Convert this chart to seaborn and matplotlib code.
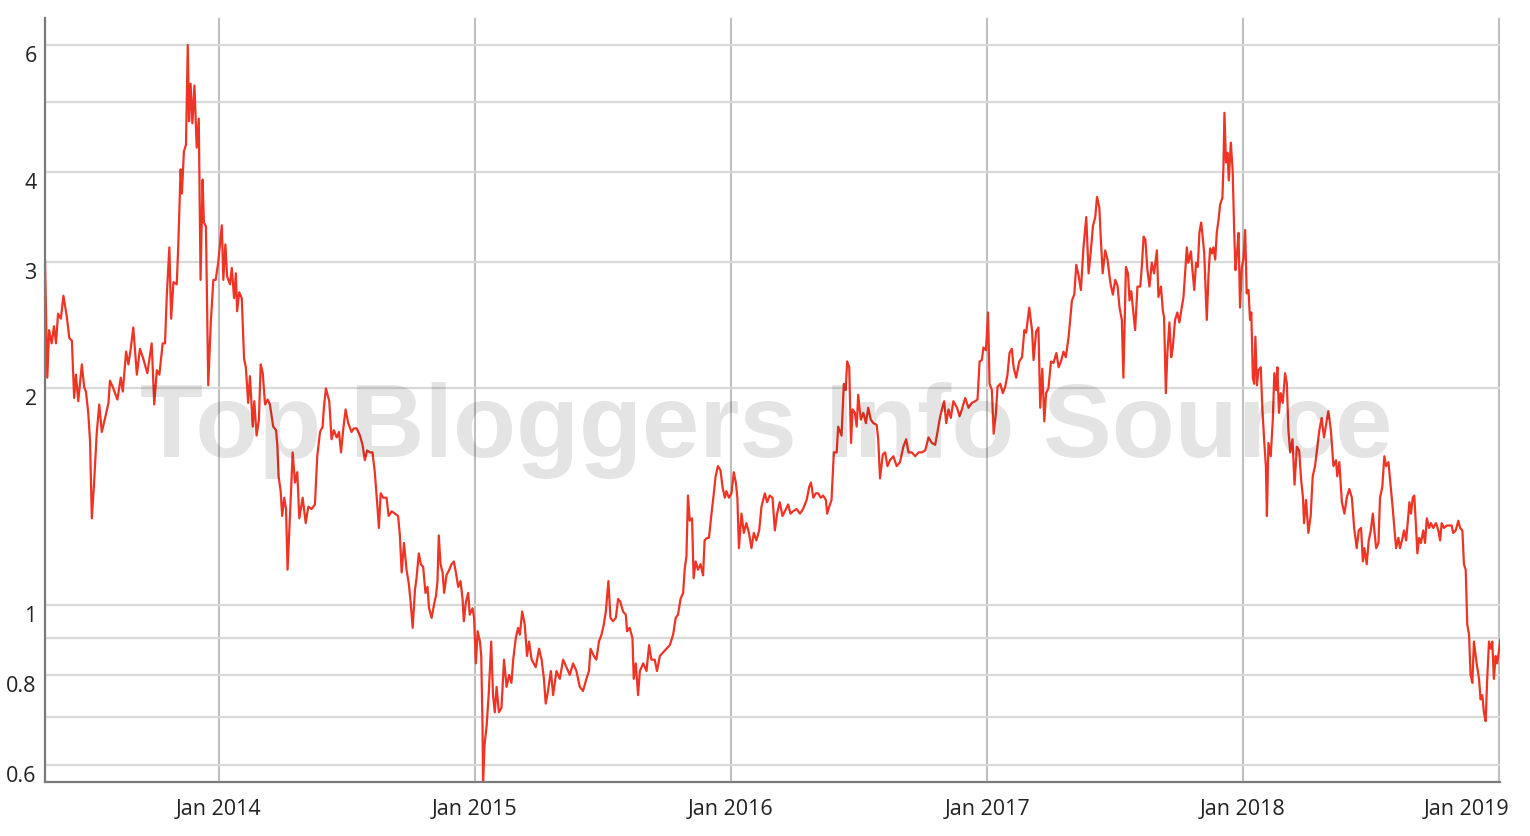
import numpy as np
import pandas as pd
import matplotlib
matplotlib.use("Agg")
import matplotlib.pyplot as plt
import matplotlib.dates as mdates
from matplotlib.ticker import FixedLocator, NullLocator, FixedFormatter
from matplotlib.transforms import ScaledTranslation
import seaborn as sns

# ---------------- data (decimal year, value) ----------------
year_frac = [
    2013.320, 2013.329, 2013.336, 2013.346, 2013.355, 2013.363, 2013.371, 2013.382, 2013.392, 2013.405,
    2013.415, 2013.425, 2013.434, 2013.441, 2013.450, 2013.464, 2013.473, 2013.480, 2013.489, 2013.496,
    2013.503, 2013.512, 2013.522, 2013.532, 2013.542, 2013.555, 2013.568, 2013.574, 2013.587, 2013.603,
    2013.616, 2013.624, 2013.637, 2013.646, 2013.655, 2013.665, 2013.679, 2013.691, 2013.704, 2013.720,
    2013.737, 2013.747, 2013.757, 2013.767, 2013.780, 2013.789, 2013.796, 2013.806, 2013.813, 2013.822,
    2013.835, 2013.841, 2013.850, 2013.855, 2013.863, 2013.871, 2013.878, 2013.883, 2013.889, 2013.896,
    2013.904, 2013.913, 2013.921, 2013.928, 2013.936, 2013.941, 2013.949, 2013.958, 2013.968, 2013.978,
    2013.987, 2013.997, 2014.011, 2014.017, 2014.025, 2014.032, 2014.043, 2014.050, 2014.059, 2014.066,
    2014.071, 2014.079, 2014.089, 2014.098, 2014.105, 2014.114, 2014.121, 2014.132, 2014.138, 2014.147,
    2014.156, 2014.163, 2014.171, 2014.180, 2014.190, 2014.199, 2014.212, 2014.223, 2014.228, 2014.233,
    2014.241, 2014.247, 2014.255, 2014.262, 2014.268, 2014.275, 2014.288, 2014.297, 2014.306, 2014.314,
    2014.327, 2014.339, 2014.349, 2014.362, 2014.375, 2014.384, 2014.395, 2014.405, 2014.410, 2014.418,
    2014.431, 2014.440, 2014.449, 2014.460, 2014.469, 2014.477, 2014.486, 2014.495, 2014.505, 2014.518,
    2014.527, 2014.538, 2014.551, 2014.561, 2014.570, 2014.579, 2014.590, 2014.600, 2014.609, 2014.618,
    2014.625, 2014.632, 2014.642, 2014.655, 2014.663, 2014.675, 2014.688, 2014.700, 2014.707, 2014.714,
    2014.723, 2014.733, 2014.742, 2014.749, 2014.757, 2014.766, 2014.772, 2014.781, 2014.789, 2014.798,
    2014.807, 2014.815, 2014.821, 2014.831, 2014.840, 2014.848, 2014.854, 2014.859, 2014.866, 2014.874,
    2014.880, 2014.889, 2014.900, 2014.909, 2014.918, 2014.926, 2014.935, 2014.944, 2014.952, 2014.957,
    2014.965, 2014.974, 2014.980, 2014.991, 2014.997, 2015.004, 2015.011, 2015.020, 2015.025, 2015.030,
    2015.032, 2015.038, 2015.046, 2015.054, 2015.064, 2015.071, 2015.078, 2015.085, 2015.094, 2015.104,
    2015.114, 2015.124, 2015.134, 2015.143, 2015.150, 2015.160, 2015.169, 2015.176, 2015.185, 2015.195,
    2015.204, 2015.212, 2015.222, 2015.230, 2015.238, 2015.251, 2015.261, 2015.270, 2015.277, 2015.286,
    2015.297, 2015.306, 2015.319, 2015.332, 2015.345, 2015.358, 2015.371, 2015.384, 2015.397, 2015.410,
    2015.423, 2015.436, 2015.446, 2015.452, 2015.465, 2015.475, 2015.485, 2015.495, 2015.504, 2015.512,
    2015.522, 2015.530, 2015.540, 2015.551, 2015.560, 2015.569, 2015.579, 2015.590, 2015.595, 2015.605,
    2015.616, 2015.621, 2015.629, 2015.638, 2015.645, 2015.658, 2015.671, 2015.681, 2015.690, 2015.703,
    2015.712, 2015.723, 2015.736, 2015.749, 2015.762, 2015.775, 2015.785, 2015.794, 2015.804, 2015.814,
    2015.820, 2015.827, 2015.833, 2015.840, 2015.849, 2015.855, 2015.863, 2015.872, 2015.882, 2015.892,
    2015.898, 2015.907, 2015.915, 2015.925, 2015.934, 2015.941, 2015.950, 2015.960, 2015.968, 2015.977,
    2015.983, 2015.993, 2016.003, 2016.012, 2016.020, 2016.026, 2016.032, 2016.042, 2016.051, 2016.061,
    2016.071, 2016.081, 2016.090, 2016.100, 2016.111, 2016.120, 2016.133, 2016.142, 2016.152, 2016.163,
    2016.172, 2016.181, 2016.191, 2016.202, 2016.211, 2016.224, 2016.233, 2016.243, 2016.257, 2016.270,
    2016.282, 2016.296, 2016.306, 2016.313, 2016.322, 2016.332, 2016.341, 2016.351, 2016.360, 2016.371,
    2016.376, 2016.384, 2016.393, 2016.402, 2016.413, 2016.419, 2016.432, 2016.441, 2016.448, 2016.454,
    2016.462, 2016.469, 2016.475, 2016.484, 2016.491, 2016.497, 2016.507, 2016.517, 2016.527, 2016.536,
    2016.546, 2016.556, 2016.569, 2016.575, 2016.582, 2016.593, 2016.602, 2016.611, 2016.621, 2016.634,
    2016.647, 2016.660, 2016.673, 2016.684, 2016.693, 2016.706, 2016.719, 2016.732, 2016.745, 2016.758,
    2016.771, 2016.784, 2016.797, 2016.806, 2016.814, 2016.823, 2016.832, 2016.840, 2016.849, 2016.858,
    2016.868, 2016.882, 2016.892, 2016.901, 2016.914, 2016.927, 2016.940, 2016.953, 2016.962, 2016.970,
    2016.979, 2016.985, 2016.995, 2017.003, 2017.009, 2017.018, 2017.025, 2017.034, 2017.040, 2017.051,
    2017.061, 2017.070, 2017.079, 2017.087, 2017.096, 2017.103, 2017.113, 2017.125, 2017.136, 2017.145,
    2017.152, 2017.164, 2017.175, 2017.181, 2017.191, 2017.200, 2017.207, 2017.215, 2017.223, 2017.230,
    2017.239, 2017.249, 2017.259, 2017.270, 2017.279, 2017.288, 2017.298, 2017.307, 2017.318, 2017.331,
    2017.340, 2017.348, 2017.357, 2017.366, 2017.376, 2017.387, 2017.392, 2017.396, 2017.405, 2017.413,
    2017.422, 2017.429, 2017.438, 2017.444, 2017.451, 2017.461, 2017.470, 2017.478, 2017.483, 2017.491,
    2017.500, 2017.509, 2017.517, 2017.526, 2017.532, 2017.542, 2017.550, 2017.556, 2017.563, 2017.569,
    2017.578, 2017.587, 2017.598, 2017.604, 2017.611, 2017.618, 2017.626, 2017.634, 2017.643, 2017.652,
    2017.663, 2017.669, 2017.679, 2017.686, 2017.691, 2017.698, 2017.704, 2017.712, 2017.719, 2017.725,
    2017.734, 2017.743, 2017.751, 2017.760, 2017.767, 2017.773, 2017.780, 2017.786, 2017.796, 2017.802,
    2017.809, 2017.816, 2017.823, 2017.829, 2017.836, 2017.843, 2017.848, 2017.853, 2017.858, 2017.865,
    2017.871, 2017.878, 2017.884, 2017.891, 2017.897, 2017.904, 2017.910, 2017.919, 2017.923, 2017.927,
    2017.933, 2017.939, 2017.944, 2017.952, 2017.959, 2017.965, 2017.970, 2017.976, 2017.982, 2017.988,
    2017.995, 2018.001, 2018.008, 2018.014, 2018.021, 2018.027, 2018.032, 2018.038, 2018.043, 2018.048,
    2018.054, 2018.060, 2018.069, 2018.075, 2018.082, 2018.089, 2018.093, 2018.099, 2018.108, 2018.116,
    2018.122, 2018.129, 2018.134, 2018.140, 2018.147, 2018.155, 2018.164, 2018.171, 2018.177, 2018.184,
    2018.193, 2018.201, 2018.210, 2018.219, 2018.227, 2018.234, 2018.238, 2018.246, 2018.255, 2018.264,
    2018.272, 2018.281, 2018.290, 2018.298, 2018.307, 2018.316, 2018.324, 2018.333, 2018.343, 2018.353,
    2018.363, 2018.368, 2018.376, 2018.386, 2018.396, 2018.405, 2018.415, 2018.425, 2018.434, 2018.444,
    2018.452, 2018.461, 2018.468, 2018.474, 2018.483, 2018.491, 2018.499, 2018.507, 2018.512, 2018.520,
    2018.529, 2018.535, 2018.544, 2018.552, 2018.559, 2018.568, 2018.577, 2018.585, 2018.591, 2018.598,
    2018.607, 2018.613, 2018.621, 2018.629, 2018.637, 2018.644, 2018.650, 2018.656, 2018.663, 2018.669,
    2018.676, 2018.681, 2018.688, 2018.695, 2018.704, 2018.711, 2018.718, 2018.727, 2018.734, 2018.743,
    2018.754, 2018.763, 2018.770, 2018.776, 2018.785, 2018.796, 2018.806, 2018.815, 2018.821, 2018.831,
    2018.841, 2018.848, 2018.857, 2018.863, 2018.870, 2018.876, 2018.883, 2018.889, 2018.896, 2018.902,
    2018.909, 2018.915, 2018.922, 2018.928, 2018.935, 2018.941, 2018.948, 2018.954, 2018.961, 2018.968,
    2018.974, 2018.980, 2018.987, 2018.993, 2018.999, 2019.006,
]

ratio = [
    3.01, 2.07, 2.41, 2.31, 2.44, 2.31, 2.54, 2.50, 2.69, 2.52,
    2.35, 2.33, 1.94, 2.09, 1.92, 2.16, 2.01, 1.98, 1.85, 1.69,
    1.32, 1.48, 1.73, 1.90, 1.74, 1.82, 1.91, 2.05, 2.00, 1.93,
    2.07, 1.98, 2.25, 2.16, 2.27, 2.43, 2.09, 2.27, 2.20, 2.10,
    2.31, 1.90, 2.12, 2.09, 2.31, 2.31, 2.69, 3.14, 2.50, 2.81,
    2.79, 3.17, 4.03, 3.73, 4.27, 4.36, 6.00, 4.70, 5.30, 4.67,
    5.27, 4.32, 4.74, 2.83, 3.90, 3.40, 3.36, 2.02, 2.47, 2.83,
    2.83, 2.99, 3.37, 2.83, 3.17, 2.86, 2.79, 2.94, 2.67, 2.89,
    2.56, 2.72, 2.67, 2.20, 2.14, 1.91, 2.08, 1.77, 1.92, 1.72,
    1.81, 2.16, 2.10, 1.90, 1.93, 1.90, 1.77, 1.75, 1.67, 1.51,
    1.44, 1.33, 1.41, 1.36, 1.12, 1.27, 1.63, 1.48, 1.53, 1.32,
    1.41, 1.30, 1.37, 1.36, 1.38, 1.61, 1.74, 1.77, 1.88, 2.00,
    1.92, 1.70, 1.75, 1.71, 1.74, 1.63, 1.76, 1.87, 1.79, 1.74,
    1.76, 1.76, 1.72, 1.67, 1.59, 1.64, 1.63, 1.63, 1.53, 1.39,
    1.28, 1.43, 1.41, 1.41, 1.33, 1.35, 1.34, 1.33, 1.25, 1.11,
    1.22, 1.12, 1.07, 1.01, 0.93, 1.05, 1.09, 1.18, 1.14, 1.13,
    1.04, 1.06, 0.99, 0.96, 1.00, 1.03, 1.08, 1.25, 1.14, 1.11,
    1.04, 1.10, 1.12, 1.14, 1.15, 1.11, 1.06, 1.08, 1.02, 0.95,
    1.01, 1.04, 0.97, 0.99, 0.96, 0.83, 0.92, 0.89, 0.85, 0.68,
    0.565, 0.64, 0.68, 0.75, 0.89, 0.75, 0.71, 0.77, 0.71, 0.72,
    0.84, 0.77, 0.80, 0.78, 0.84, 0.90, 0.93, 0.91, 0.98, 0.94,
    0.85, 0.89, 0.84, 0.83, 0.82, 0.87, 0.84, 0.79, 0.73, 0.76,
    0.81, 0.75, 0.81, 0.79, 0.84, 0.82, 0.80, 0.83, 0.81, 0.77,
    0.76, 0.79, 0.81, 0.87, 0.85, 0.84, 0.89, 0.91, 0.94, 0.98,
    1.08, 0.96, 0.95, 0.96, 1.02, 1.01, 0.98, 0.97, 0.92, 0.93,
    0.90, 0.79, 0.83, 0.75, 0.81, 0.83, 0.81, 0.88, 0.84, 0.84,
    0.81, 0.85, 0.86, 0.87, 0.88, 0.91, 0.96, 0.97, 1.02, 1.04,
    1.12, 1.17, 1.42, 1.31, 1.32, 1.09, 1.15, 1.12, 1.14, 1.10,
    1.23, 1.24, 1.24, 1.34, 1.43, 1.51, 1.56, 1.54, 1.46, 1.41,
    1.44, 1.41, 1.43, 1.53, 1.48, 1.41, 1.20, 1.34, 1.26, 1.30,
    1.26, 1.20, 1.26, 1.23, 1.27, 1.37, 1.43, 1.39, 1.42, 1.41,
    1.27, 1.34, 1.39, 1.33, 1.35, 1.38, 1.34, 1.35, 1.36, 1.34,
    1.36, 1.40, 1.46, 1.48, 1.41, 1.43, 1.43, 1.41, 1.42, 1.40,
    1.34, 1.37, 1.40, 1.63, 1.63, 1.77, 1.72, 2.03, 1.99, 2.18,
    2.14, 1.68, 1.87, 1.85, 1.77, 1.96, 1.81, 1.85, 1.79, 1.88,
    1.81, 1.79, 1.78, 1.70, 1.50, 1.62, 1.63, 1.56, 1.59, 1.61,
    1.56, 1.58, 1.66, 1.70, 1.63, 1.63, 1.61, 1.63, 1.63, 1.64,
    1.71, 1.68, 1.67, 1.74, 1.81, 1.87, 1.92, 1.79, 1.87, 1.82,
    1.92, 1.88, 1.83, 1.87, 1.94, 1.88, 1.91, 1.92, 1.93, 2.18,
    2.19, 2.28, 2.26, 2.55, 2.03, 1.99, 1.73, 1.85, 2.01, 2.03,
    1.97, 2.01, 2.09, 2.24, 2.27, 2.14, 2.07, 2.18, 2.21, 2.41,
    2.39, 2.59, 2.41, 2.19, 2.40, 2.43, 1.88, 2.13, 1.80, 1.97,
    2.00, 2.18, 2.17, 2.24, 2.14, 2.18, 2.25, 2.21, 2.36, 2.65,
    2.70, 2.97, 2.87, 2.74, 3.14, 3.46, 3.14, 2.89, 3.11, 3.36,
    3.46, 3.69, 3.57, 3.22, 2.89, 3.11, 3.02, 2.86, 2.78, 2.70,
    2.83, 2.78, 2.59, 2.49, 2.07, 2.95, 2.89, 2.65, 2.73, 2.59,
    2.41, 2.77, 2.77, 2.95, 3.25, 3.22, 2.92, 2.77, 2.99, 2.89,
    3.11, 2.68, 2.77, 2.57, 2.51, 1.97, 2.24, 2.47, 2.21, 2.28,
    2.49, 2.55, 2.47, 2.59, 2.68, 2.89, 3.14, 2.99, 3.10, 2.92,
    2.74, 2.99, 2.95, 3.29, 3.40, 3.22, 3.08, 2.77, 2.49, 2.89,
    3.13, 3.08, 3.14, 3.02, 3.29, 3.43, 3.60, 3.68, 4.06, 4.83,
    4.12, 4.25, 3.89, 4.39, 4.02, 3.32, 2.92, 3.08, 3.29, 2.59,
    2.95, 3.02, 3.32, 2.71, 2.74, 2.49, 2.55, 2.07, 2.03, 2.36,
    2.02, 2.12, 2.14, 1.88, 1.70, 1.56, 1.33, 1.68, 1.61, 1.81,
    2.10, 1.99, 2.14, 1.85, 1.97, 1.91, 2.10, 2.03, 1.75, 1.63,
    1.70, 1.47, 1.66, 1.64, 1.49, 1.41, 1.30, 1.40, 1.26, 1.33,
    1.51, 1.56, 1.66, 1.75, 1.82, 1.71, 1.78, 1.86, 1.75, 1.56,
    1.59, 1.51, 1.58, 1.39, 1.34, 1.41, 1.45, 1.41, 1.28, 1.20,
    1.27, 1.28, 1.15, 1.20, 1.14, 1.23, 1.27, 1.34, 1.28, 1.20,
    1.22, 1.41, 1.46, 1.61, 1.56, 1.58, 1.46, 1.36, 1.28, 1.20,
    1.24, 1.20, 1.23, 1.27, 1.23, 1.31, 1.39, 1.34, 1.41, 1.42,
    1.28, 1.18, 1.24, 1.22, 1.27, 1.22, 1.32, 1.28, 1.30, 1.28,
    1.30, 1.27, 1.23, 1.30, 1.28, 1.29, 1.29, 1.29, 1.26, 1.27,
    1.31, 1.28, 1.27, 1.14, 1.12, 0.94, 0.91, 0.80, 0.78, 0.89,
    0.85, 0.82, 0.79, 0.74, 0.75, 0.71, 0.69, 0.79, 0.89, 0.87,
    0.89, 0.79, 0.85, 0.83, 0.86, 0.90,
]

y_ticks = [0.6, 0.7, 0.8, 0.9, 1, 2, 3, 4, 5, 6]
y_tick_labels = ["0.6", "", "0.8", "", "1", "2", "3", "4", "", "6"]
x_tick_years = [2014, 2015, 2016, 2017, 2018, 2019]
watermark = "Top Bloggers Info Source"


def to_date(t):
    y = int(np.floor(t))
    s = pd.Timestamp(year=y, month=1, day=1)
    e = pd.Timestamp(year=y + 1, month=1, day=1)
    return s + (e - s) * (t - y)


df = pd.DataFrame({"date": [to_date(t) for t in year_frac], "value": ratio})

sns.set_theme(style="white")
plt.rcParams["font.family"] = ["Open Sans", "DejaVu Sans"]

W, H = 1530, 836
fig = plt.figure(figsize=(W / 100, H / 100), dpi=100)
L, R, T, B = 45, 1500, 18, 782
ax = fig.add_axes([L / W, 1 - B / H, (R - L) / W, (B - T) / H])

sns.lineplot(data=df, x="date", y="value", ax=ax, color="#ee3424",
             linewidth=1.6, estimator=None, sort=False, zorder=5)

ax.set_yscale("log")
ax.set_ylim(0.568, 6.54)
ax.set_xlim(to_date(2013.320), to_date(2019.004))

ax.yaxis.set_major_locator(FixedLocator(y_ticks))
ax.yaxis.set_major_formatter(FixedFormatter(y_tick_labels))
ax.yaxis.set_minor_locator(NullLocator())

ax.xaxis.set_major_locator(FixedLocator([mdates.date2num(pd.Timestamp(year=y, month=1, day=1)) for y in x_tick_years]))
ax.xaxis.set_major_formatter(mdates.DateFormatter("%b %Y"))
ax.xaxis.set_minor_locator(NullLocator())

ax.set_xlabel("")
ax.set_ylabel("")

ax.grid(False)
ax.grid(axis="y", color="#d9d9d9", linewidth=1.6, zorder=0)
ax.grid(axis="x", color="#b8b8b8", linewidth=1.3, zorder=0)
ax.set_axisbelow(True)

for side in ["top", "right"]:
    ax.spines[side].set_visible(False)
for side in ["left", "bottom"]:
    ax.spines[side].set_color("#7a7a7a")
    ax.spines[side].set_linewidth(1.6)
    ax.spines[side].set_zorder(6)

ax.tick_params(axis="both", length=0, labelsize=15.5, labelcolor="#222222")
ax.tick_params(axis="x", pad=12)
ax.tick_params(axis="y", pad=6)

offset = ScaledTranslation(0, -9 / 100, fig.dpi_scale_trans)
for tick in ax.yaxis.get_major_ticks():
    tick.label1.set_transform(tick.label1.get_transform() + offset)

# last x label is pulled inside the figure (as in the reference)
last_tick = ax.xaxis.get_major_ticks()[-1]
last_tick.label1.set_transform(last_tick.label1.get_transform()
                               + ScaledTranslation(-32 / 100, 0, fig.dpi_scale_trans))

# watermark
wm = fig.text((140 + 1392) / 2 / W, 1 - 457 / H, watermark, ha="center", va="baseline",
              fontsize=74, fontweight="bold", family=["Liberation Sans", "DejaVu Sans"],
              color="#000000", alpha=0.105, zorder=3)
fig.canvas.draw()
bb = wm.get_window_extent(renderer=fig.canvas.get_renderer())
wm.set_fontsize(74 * (1392 - 140) / bb.width)

fig.savefig("out.png", dpi=100)
